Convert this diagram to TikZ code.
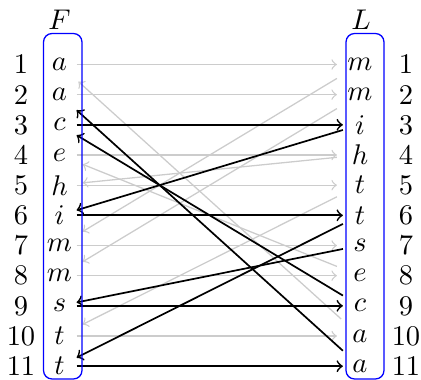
\documentclass[tikz,border=0pt]{standalone}
\begin{document}
\begin{tikzpicture}[x=0.351pt,y=-0.351pt,
  lett/.style={inner sep=0pt, minimum width=11.6pt, minimum height=11.2pt},
  gbox/.style={inner sep=0pt, minimum width=15.8pt, minimum height=11.6pt},
  num/.style={inner sep=0pt},
  gline/.style={draw=black!20, line width=0.45pt, ->},
  bline/.style={draw=black, line width=0.6pt, ->},
  bluebox/.style={draw=blue, line width=0.45pt, rounded corners=3pt}]
\useasboundingbox (0,0) rectangle (421,380);
\foreach \f [count=\i] in {a,a,c,e,h,i,m,m,s,t,t} {
  \node[lett] (F\i) at (59.5,{64.5+30.17*(\i-1)}) {$\f$};
  \node[gbox] (gF\i) at (F\i.center) {};
  \node[num] (nF\i) at (21,{64.5+30.17*(\i-1)}) {\i};
}
\foreach \l [count=\i] in {m,m,i,h,t,t,s,e,c,a,a} {
  \node[lett] (L\i) at (360,{64.5+30.17*(\i-1)}) {$\l$};
  \node[gbox] (gL\i) at (L\i.center) {};
  \node[num] (nL\i) at (406,{64.5+30.17*(\i-1)}) {\i};
}
\node[anchor=base] (Flab) at (59.5,29.3) {$F$};
\node[anchor=base] (Llab) at (361,29.3) {$L$};
% gray rows
\foreach \i in {1,2,4,5,7,8,10} { \draw[gline] (F\i) -- (gL\i); }
% gray LF links
\foreach \j/\k in {1/7,2/8,4/5,5/10,8/4,10/1} { \draw[gline] (gL\j) -- (gF\k); }
% black rows
\foreach \i in {3,6,9,11} { \draw[bline] (F\i) -- (L\i); }
% black LF links
\foreach \j/\k in {3/6,6/11,7/9,9/3,11/2} { \draw[bline] (L\j) -- (F\k); }
% boxes
\draw[bluebox] (43.5,33.5) rectangle (82,379);
\draw[bluebox] (346,33.5) rectangle (384,379);
\end{tikzpicture}
\end{document}
